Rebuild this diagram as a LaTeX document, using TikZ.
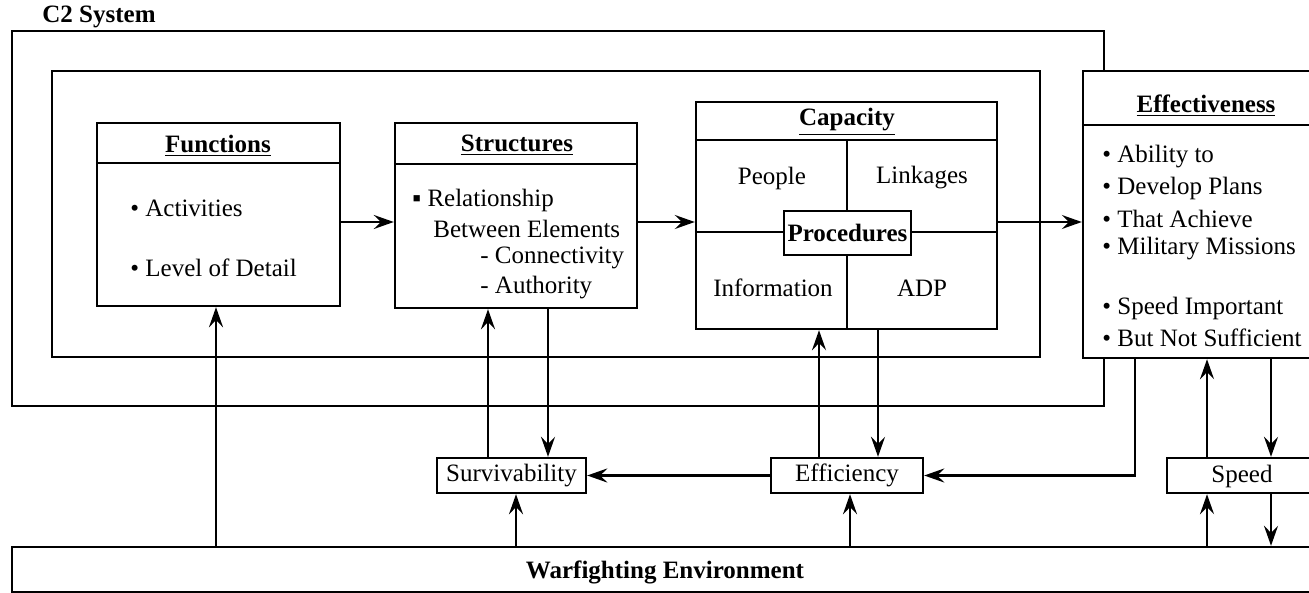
\documentclass[tikz,border=0pt]{standalone}
\usepackage{fontspec}
\setmainfont{Liberation Serif}
\usetikzlibrary{arrows.meta,fit,calc}
\begin{document}
\begin{tikzpicture}[x=0.5pt,y=-0.5pt,
  frame/.style={draw, line width=1.3pt, inner sep=0pt},
  box/.style={draw, line width=1.2pt, inner sep=0pt, fill=white},
  rule/.style={line width=1.1pt},
  arr/.style={line width=1.1pt, -{Stealth[length=10pt,width=7pt,inset=3.5pt]}},
  txt/.style={inner sep=0pt, font=\fontsize{12.5}{15}\selectfont},
  ttl/.style={inner sep=0pt, font=\fontsize{12.5}{15}\selectfont\bfseries},
]
\useasboundingbox (0,0) rectangle (1309,593);
\clip (0,0) rectangle (1309,593);
\fill[white] (0,0) rectangle (1309,593);

% enclosing frames of the C2 system
\node[frame, fit={(12,31) (1104,406)}] (c2) {};
\node[frame, fit={(52,71) (1040,357)}] (inner) {};
\node[ttl, anchor=west] (c2lbl) at (42,17) {C2 System};

% Functions
\node[box, fit={(97,123) (340,306)}] (fun) {};
\draw[rule] ($(fun.north west)+(0,41)$) -- ($(fun.north east)+(0,41)$);
\node[ttl] (funT) at (218,146) {\underline{Functions}};
\node[txt, anchor=west] (fun1) at (130,208) {• Activities};
\node[txt, anchor=west] (fun2) at (130,268) {• Level of Detail};

% Structures
\node[box, fit={(395,123) (637,308)}] (str) {};
\draw[rule] ($(str.north west)+(0,42)$) -- ($(str.north east)+(0,42)$);
\node[ttl] (strT) at (517,145) {\underline{Structures}};
\node[txt, anchor=west] (str1) at (412,200) {▪ Relationship};
\node[txt, anchor=west] (str2) at (433,229) {Between Elements};
\node[txt, anchor=west] (str3) at (480,258) {- Connectivity};
\node[txt, anchor=west] (str4) at (480,288) {- Authority};

% Capacity
\node[box, fit={(696,102) (997,329)}] (cap) {};
\draw[rule] ($(cap.north west)+(0,39)$) -- ($(cap.north east)+(0,39)$);
\draw[rule] ($(cap.north west)+(0,131)$) -- ($(cap.north east)+(0,131)$);
\draw[rule] ($(cap.north west)+(152,39)$) -- ($(cap.south west)+(152,0)$);
\node[ttl] (capT) at (847,122) {\underline{Capacity}};
\node[txt] (cap1) at (772,178) {People};
\node[txt] (cap2) at (922,178) {Linkages};
\node[txt] (cap3) at (773,288) {Information};
\node[txt] (cap4) at (922,288) {ADP};
\node[box, fit={(784,211) (911,255)}] (proc) {};
\node[ttl] (procT) at (proc.center) {Procedures};

% Effectiveness
\node[box, fit={(1083,71) (1330,358)}] (eff) {};
\draw[rule] ($(eff.north west)+(0,55)$) -- ($(eff.north east)+(0,55)$);
\node[ttl] (effT) at (1206,106) {\underline{Effectiveness}};
\node[txt, anchor=west] (eff1) at (1102,157) {• Ability to};
\node[txt, anchor=west] (eff2) at (1102,188) {• Develop Plans};
\node[txt, anchor=west] (eff3) at (1102,219) {• That Achieve};
\node[txt, anchor=west] (eff4) at (1102,249) {• Military Missions};
\node[txt, anchor=west] (eff5) at (1102,308) {• Speed Important};
\node[txt, anchor=west] (eff6) at (1102,338) {• But Not Sufficient};

% measures
\node[box, fit={(437,458) (586,493)}] (surv) {};
\node[txt] (survT) at (surv.center) {Survivability};
\node[box, fit={(771,458) (923,493)}] (effi) {};
\node[txt] (effiT) at (effi.center) {Efficiency};
\node[box, fit={(1167,458) (1330,493)}] (speed) {};
\node[txt] (speedT) at (1242,476) {Speed};

% environment
\node[box, fit={(12,547) (1330,592)}] (war) {};
\node[ttl] (warT) at (665,572) {Warfighting Environment};

% connector positions
\coordinate (row) at (0,222);
\coordinate (xa) at (216,0);
\coordinate (xb) at (488,0);
\coordinate (xc) at (548,0);
\coordinate (xd) at (516,0);
\coordinate (xe) at (819,0);
\coordinate (xf) at (878,0);
\coordinate (xg) at (850,0);
\coordinate (xh) at (1135,0);
\coordinate (xi) at (1207,0);
\coordinate (xj) at (1271,0);

% main chain
\draw[arr] (fun.east |- row) -- (str.west |- row);
\draw[arr] (str.east |- row) -- (cap.west |- row);
\draw[arr] (cap.east |- row) -- (eff.west |- row);

% feedback connectors
\draw[arr] (war.north -| xa) -- (fun.south -| xa);
\draw[arr] (surv.north -| xb) -- (str.south -| xb);
\draw[arr] (str.south -| xc) -- (surv.north -| xc);
\draw[arr] (war.north -| xd) -- (surv.south -| xd);
\draw[arr] (effi.north -| xe) -- (cap.south -| xe);
\draw[arr] (cap.south -| xf) -- (effi.north -| xf);
\draw[arr] (war.north -| xg) -- (effi.south -| xg);
\draw[arr] (effi.west) -- (surv.east);
\draw[arr] (eff.south -| xh) |- (effi.east);
\draw[arr] (speed.north -| xi) -- (eff.south -| xi);
\draw[arr] (eff.south -| xj) -- (speed.north -| xj);
\draw[arr] (war.north -| xi) -- (speed.south -| xi);
\draw[arr] (speed.south -| xj) -- (war.north -| xj);
\end{tikzpicture}
\end{document}
